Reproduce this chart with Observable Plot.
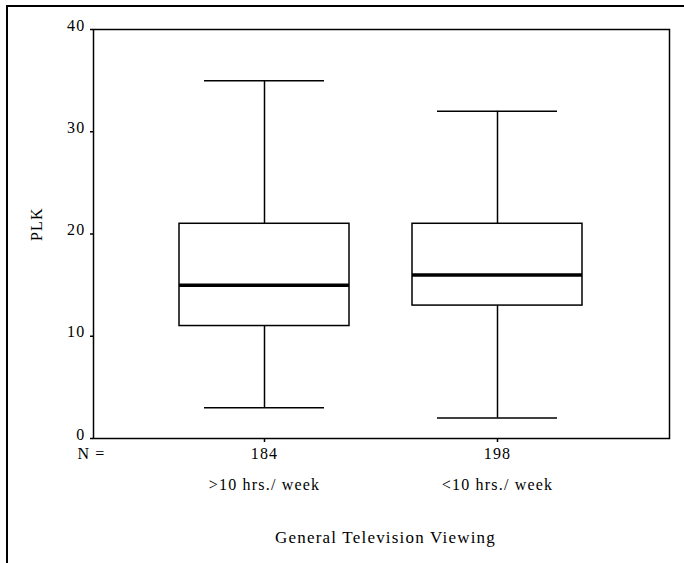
<!DOCTYPE html>
<html><head><meta charset="utf-8">
<script src="https://cdn.jsdelivr.net/npm/d3@7"></script>
<script src="https://cdn.jsdelivr.net/npm/@observablehq/plot@0.6"></script>
<style>
body{margin:0;background:#fff}
#wrap{position:relative;width:684px;height:563px;overflow:hidden;background:#fff}
#edge{position:absolute;left:6px;top:5px;right:-10px;bottom:-10px;border-left:2px solid #000;border-top:2px solid #000;pointer-events:none}
#wrap svg text{font-family:"Liberation Serif","DejaVu Serif",serif;letter-spacing:1.2px}
</style></head><body><div id="wrap"><div id="edge"></div></div>
<script>
const groups = [">10 hrs./ week", "<10 hrs./ week"];
const counts = [184, 198];
const lowWhisker = [3, 2];
const q1 = [11, 13];
const median = [15, 16];
const q3 = [21, 21];
const highWhisker = [35, 32];
const yTicks = [0, 10, 20, 30, 40];
const yLabel = "PLK";
const xTitle = "General Television Viewing";
const nLabel = "N =";

const data = groups.map((g, i) => ({group: g, n: counts[i], lo: lowWhisker[i], q1: q1[i], med: median[i], q3: q3[i], hi: highWhisker[i]}));

const font = "Liberation Serif";
const chart = Plot.plot({
  width: 684, height: 563,
  marginLeft: 93, marginRight: 15, marginTop: 29, marginBottom: 125,
  style: {fontFamily: font, fontSize: "16px", color: "#000", background: "transparent", overflow: "visible"},
  x: {domain: groups, paddingInner: 0.27, paddingOuter: 0.371, axis: null},
  y: {domain: [0, 40], axis: null},
  marks: [
    Plot.frame({stroke: "#000", strokeWidth: 1.5}),
    Plot.axisY({ticks: yTicks, tickSize: 3, tickFormat: () => "", label: null, strokeWidth: 1.5}),
    Plot.axisY({ticks: yTicks, tickSize: 0, tickPadding: 8, label: null, dy: -4, fontSize: 16, fontFamily: font}),
    Plot.axisX({tickSize: 4, tickFormat: () => "", label: null, strokeWidth: 1.5}),
    Plot.ruleX(data, {x: "group", y1: "lo", y2: "q1", stroke: "#000", strokeWidth: 1.5}),
    Plot.ruleX(data, {x: "group", y1: "q3", y2: "hi", stroke: "#000", strokeWidth: 1.5}),
    Plot.tickY(data, {x: "group", y: "lo", insetLeft: 25, insetRight: 25, stroke: "#000", strokeWidth: 1.5}),
    Plot.tickY(data, {x: "group", y: "hi", insetLeft: 25, insetRight: 25, stroke: "#000", strokeWidth: 1.5}),
    Plot.barY(data, {x: "group", y1: "q1", y2: "q3", fill: "#fff", stroke: "#000", strokeWidth: 1.5}),
    Plot.tickY(data, {x: "group", y: "med", stroke: "#000", strokeWidth: 3.5}),
    Plot.text(data, {x: "group", text: "n", frameAnchor: "bottom", dy: 20, fontSize: 16, fontFamily: font}),
    Plot.text(data, {x: "group", text: "group", frameAnchor: "bottom", dy: 51, fontSize: 16, fontFamily: font}),
    Plot.text([nLabel], {text: d => d, frameAnchor: "bottom-left", dy: 20, dx: -2, textAnchor: "middle", fontSize: 16, fontFamily: font}),
    Plot.text([xTitle], {text: d => d, frameAnchor: "bottom", dy: 104, dx: 4, fontSize: 17, fontFamily: font}),
    Plot.text([yLabel], {text: d => d, frameAnchor: "left", dx: -57, dy: 7, rotate: -90, fontSize: 16, fontFamily: font})
  ]
});
document.getElementById("wrap").prepend(chart);
</script>
</body></html>
